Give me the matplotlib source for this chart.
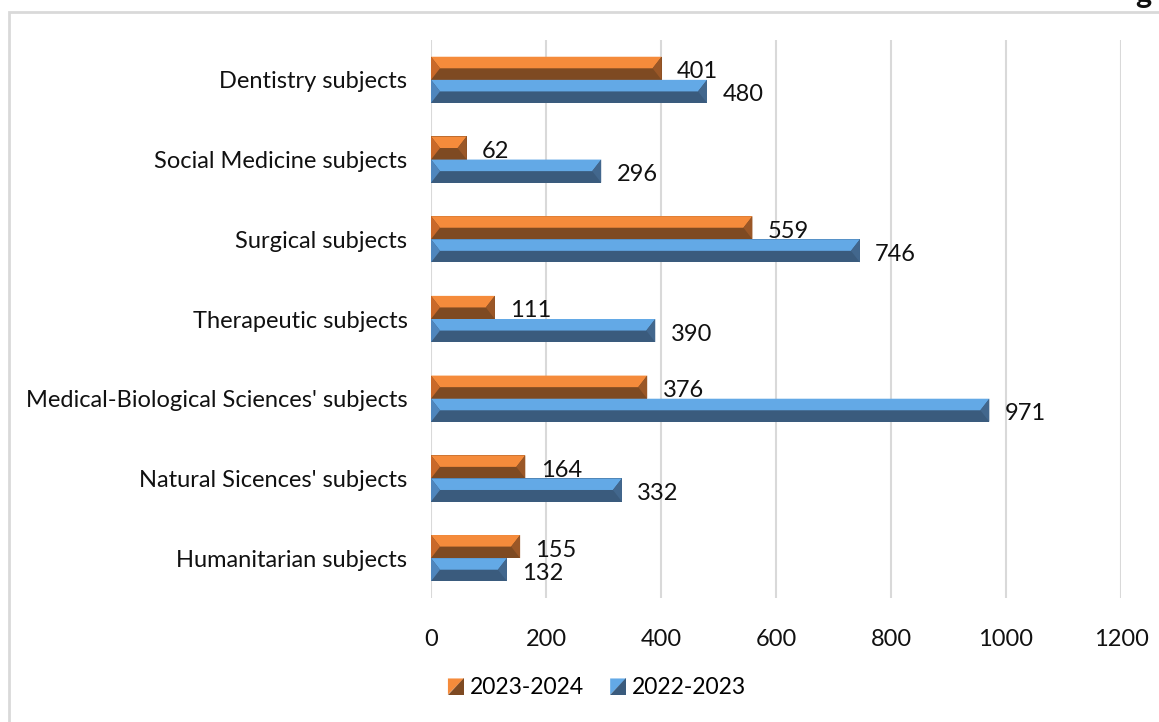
import matplotlib
matplotlib.use("Agg")
import matplotlib.pyplot as plt
from matplotlib.patches import Polygon, Rectangle
from matplotlib.legend_handler import HandlerBase
import numpy as np

plt.rcParams["font.family"] = ["Lato", "DejaVu Sans"]

# data (bottom to top)
categories = [
    "Humanitarian subjects",
    "Natural Sicences' subjects",
    "Medical-Biological Sciences' subjects",
    "Therapeutic subjects",
    "Surgical subjects",
    "Social Medicine subjects",
    "Dentistry subjects",
]
vals_2023 = [155, 164, 376, 111, 559, 62, 401]
vals_2022 = [132, 332, 971, 390, 746, 296, 480]
series_labels = ["2023-2024", "2022-2023"]
xticks = [0, 200, 400, 600, 800, 1000, 1200]

# bevel colours: top face, bottom face, left face, right face
orange = dict(top="#F58B3B", bottom="#7E4A22", left="#C9692A", right="#9A5727")
blue = dict(top="#63A9E6", bottom="#3A5B7D", left="#4F86BD", right="#42678D")

fig = plt.figure(figsize=(11.59, 7.22), dpi=100)
W, H = 1159, 722
ax = fig.add_axes([431 / W, 1 - 598 / H, (1121 - 431) / W, (598 - 40) / H])

y = np.arange(len(categories))
bh = 0.29
bars_o = ax.barh(y + bh / 2, vals_2023, height=bh, color=orange["bottom"], zorder=3)
bars_b = ax.barh(y - bh / 2, vals_2022, height=bh, color=blue["bottom"], zorder=3)

ax.set_xlim(0, 1200)
ax.set_ylim(-0.5, len(categories) - 0.5)


def bevel(ax, bars, c):
    # x units per pixel so the bevel is a fixed pixel size
    d = 9 * 1200 / 690
    for r in bars:
        x0, y0, w, h = r.get_x(), r.get_y(), r.get_width(), r.get_height()
        x1, y1, ym = x0 + w, y0 + h, y0 + h / 2
        dd = min(d, w / 2)
        ax.add_patch(Polygon([(x0, y1), (x1, y1), (x1 - dd, ym), (x0 + dd, ym)],
                             closed=True, color=c["top"], lw=0, zorder=4))
        ax.add_patch(Polygon([(x0, y1), (x0 + dd, ym), (x0, y0)],
                             closed=True, color=c["left"], lw=0, zorder=4))
        ax.add_patch(Polygon([(x1, y1), (x1 - dd, ym), (x1, y0)],
                             closed=True, color=c["right"], lw=0, zorder=4))


bevel(ax, bars_o, orange)
bevel(ax, bars_b, blue)

for bars, vals in [(bars_o, vals_2023), (bars_b, vals_2022)]:
    for r, v in zip(bars, vals):
        ax.annotate(str(v), (r.get_width(), r.get_y() + r.get_height() / 2),
                    xytext=(11, -2.5), textcoords="offset points", va="center",
                    ha="left", fontsize=17, color="#111111", zorder=5)

ax.set_yticks(y)
ax.set_yticklabels(categories, fontsize=17, color="#111111")
ax.set_xticks(xticks)
ax.set_xticklabels([str(t) for t in xticks], fontsize=17, color="#111111")
ax.tick_params(axis="both", length=0)
ax.tick_params(axis="y", pad=17)
ax.tick_params(axis="x", pad=22)
ax.grid(axis="x", color="#D9D9D9", linewidth=1.5, zorder=0)
for s in ax.spines.values():
    s.set_visible(False)


class BevelHandler(HandlerBase):
    def __init__(self, c):
        super().__init__()
        self.c = c

    def create_artists(self, legend, orig, xd, yd, width, height, fontsize, trans):
        s = min(width, height)
        x0 = xd + width - s
        y0 = yd
        p1 = Polygon([(x0, y0 + s), (x0 + s, y0 + s), (x0, y0)], closed=True,
                     color=self.c["top"], lw=0, transform=trans)
        p2 = Polygon([(x0 + s, y0 + s), (x0 + s, y0), (x0, y0)], closed=True,
                     color=self.c["bottom"], lw=0, transform=trans)
        return [p1, p2]


h1 = Rectangle((0, 0), 1, 1)
h2 = Rectangle((0, 0), 1, 1)
fig.legend([h1, h2], series_labels, loc="center", bbox_to_anchor=(597 / W, 1 - 688 / H),
           ncol=2, frameon=False, fontsize=16.5, handlelength=0.7, handleheight=0.7,
           handletextpad=0.25, columnspacing=1.15,
           handler_map={h1: BevelHandler(orange), h2: BevelHandler(blue)})

# chart border (runs off the right and bottom edges)
fig.patches.append(Rectangle((9 / W, -0.05), 1.1, 1 - 12 / H + 0.05,
                             transform=fig.transFigure, fill=False,
                             edgecolor="#D9D9D9", linewidth=2))

# tail of a title letter cut off at the top edge, as in the source
fig.text(1143 / W, 1 - 3 / H, "g", fontsize=22, fontweight="bold",
         ha="center", va="baseline", color="#111111")

fig.savefig("out.png", dpi=100)
